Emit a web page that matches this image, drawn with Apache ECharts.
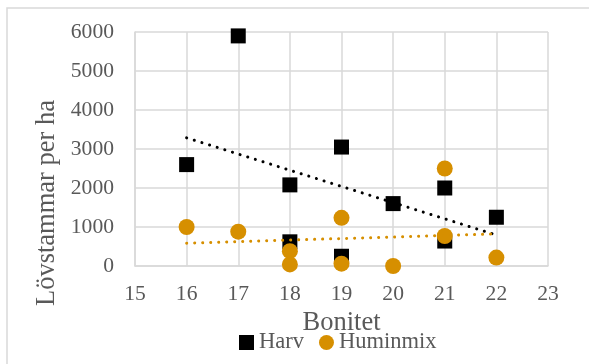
<!DOCTYPE html>
<html>
<head>
<meta charset="utf-8">
<script src="https://cdn.jsdelivr.net/npm/echarts@6/dist/echarts.min.js"></script>
<style>
  html, body { margin: 0; padding: 0; background: #fff; }
  #chart { width: 589px; height: 364px; }
</style>
</head>
<body>
<div id="chart"></div>
<script>
// Bonitet (site index) per stand and leaf-tree stems per hectare
const harvBonitet = [16, 17, 18, 18, 19, 19, 20, 21, 21, 22];
const harvStems   = [2600, 5900, 2080, 620, 3050, 250, 1600, 2000, 640, 1250];

const huminBonitet = [16, 17, 18, 18, 19, 19, 20, 21, 21, 22];
const huminStems   = [1000, 880, 380, 40, 1235, 60, 0, 2500, 770, 215];

const xTicks = [15, 16, 17, 18, 19, 20, 21, 22, 23];
const yTicks = [0, 1000, 2000, 3000, 4000, 5000, 6000];

const seriesNames = ['Harv', 'Huminmix'];

// Least-squares linear trend, evaluated over the observed x range
function linearTrend(xs, ys) {
  const n = xs.length;
  const mx = xs.reduce((a, b) => a + b, 0) / n;
  const my = ys.reduce((a, b) => a + b, 0) / n;
  let sxy = 0, sxx = 0;
  for (let i = 0; i < n; i++) {
    sxy += (xs[i] - mx) * (ys[i] - my);
    sxx += (xs[i] - mx) * (xs[i] - mx);
  }
  const k = sxy / sxx;
  const x0 = Math.min(...xs), x1 = Math.max(...xs);
  return [[x0, my + k * (x0 - mx)], [x1, my + k * (x1 - mx)]];
}

const pairs = (xs, ys) => xs.map((x, i) => [x, ys[i]]);

const FONT = 'Liberation Serif';
const TEXT = '#595959';
const GRID = '#d9d9d9';
const BLACK = '#000000';
const GOLD = '#d68f00';

const chart = echarts.init(document.getElementById('chart'), null, { renderer: 'canvas' });

chart.setOption({
  animation: false,
  backgroundColor: '#ffffff',
  textStyle: { fontFamily: FONT },
  graphic: [
    {
      type: 'rect',
      shape: { x: 7, y: 8, width: 620, height: 400 },
      style: { fill: 'none', stroke: GRID, lineWidth: 1.5 },
      silent: true,
      z: -10
    },
    {
      type: 'text',
      x: 47,
      y: 203,
      rotation: Math.PI / 2,
      style: {
        text: 'Lövstammar per ha',
        fill: TEXT,
        fontSize: 26.5,
        fontFamily: FONT,
        textAlign: 'center',
        textVerticalAlign: 'middle'
      }
    }
  ],
  grid: { left: 135, right: 41, top: 32, bottom: 98, containLabel: false },
  legend: {
    data: seriesNames,
    left: 234,
    top: 326,
    itemWidth: 15,
    itemHeight: 15,
    itemGap: 15,
    textStyle: { color: TEXT, fontSize: 22.5, fontFamily: FONT }
  },
  xAxis: {
    type: 'value',
    min: xTicks[0],
    max: xTicks[xTicks.length - 1],
    interval: 1,
    name: 'Bonitet',
    nameLocation: 'middle',
    nameGap: 40,
    nameTextStyle: { color: TEXT, fontSize: 26.5, fontFamily: FONT },
    axisLine: { show: true, lineStyle: { color: GRID, width: 1.5 } },
    axisTick: { show: false },
    axisLabel: { color: TEXT, fontSize: 21.6, fontFamily: FONT, margin: 17 },
    splitLine: { show: true, lineStyle: { color: GRID, width: 1.5 } }
  },
  yAxis: {
    type: 'value',
    min: yTicks[0],
    max: yTicks[yTicks.length - 1],
    interval: 1000,
    axisLine: { show: true, lineStyle: { color: GRID, width: 1.5 } },
    axisTick: { show: false },
    axisLabel: {
      color: TEXT, fontSize: 21.6, fontFamily: FONT, margin: 21,
      formatter: (v) => String(v)
    },
    splitLine: { show: true, lineStyle: { color: GRID, width: 1.5 } }
  },
  series: [
    {
      name: 'Harv',
      type: 'scatter',
      symbol: 'rect',
      symbolSize: 15,
      itemStyle: { color: BLACK, opacity: 1 },
      data: pairs(harvBonitet, harvStems),
      z: 2
    },
    {
      name: 'Huminmix',
      type: 'scatter',
      symbol: 'circle',
      symbolSize: 16,
      itemStyle: { color: GOLD, opacity: 1 },
      data: pairs(huminBonitet, huminStems),
      z: 3
    },
    {
      name: 'Harv trend',
      type: 'line',
      data: linearTrend(harvBonitet, harvStems),
      showSymbol: false,
      symbol: 'none',
      lineStyle: { color: BLACK, width: 3, type: [0.1, 7.9], cap: 'round' },
      z: 4
    },
    {
      name: 'Huminmix trend',
      type: 'line',
      data: linearTrend(huminBonitet, huminStems),
      showSymbol: false,
      symbol: 'none',
      lineStyle: { color: GOLD, width: 3, type: [0.1, 7.9], cap: 'round' },
      z: 4
    }
  ]
});
</script>
</body>
</html>
